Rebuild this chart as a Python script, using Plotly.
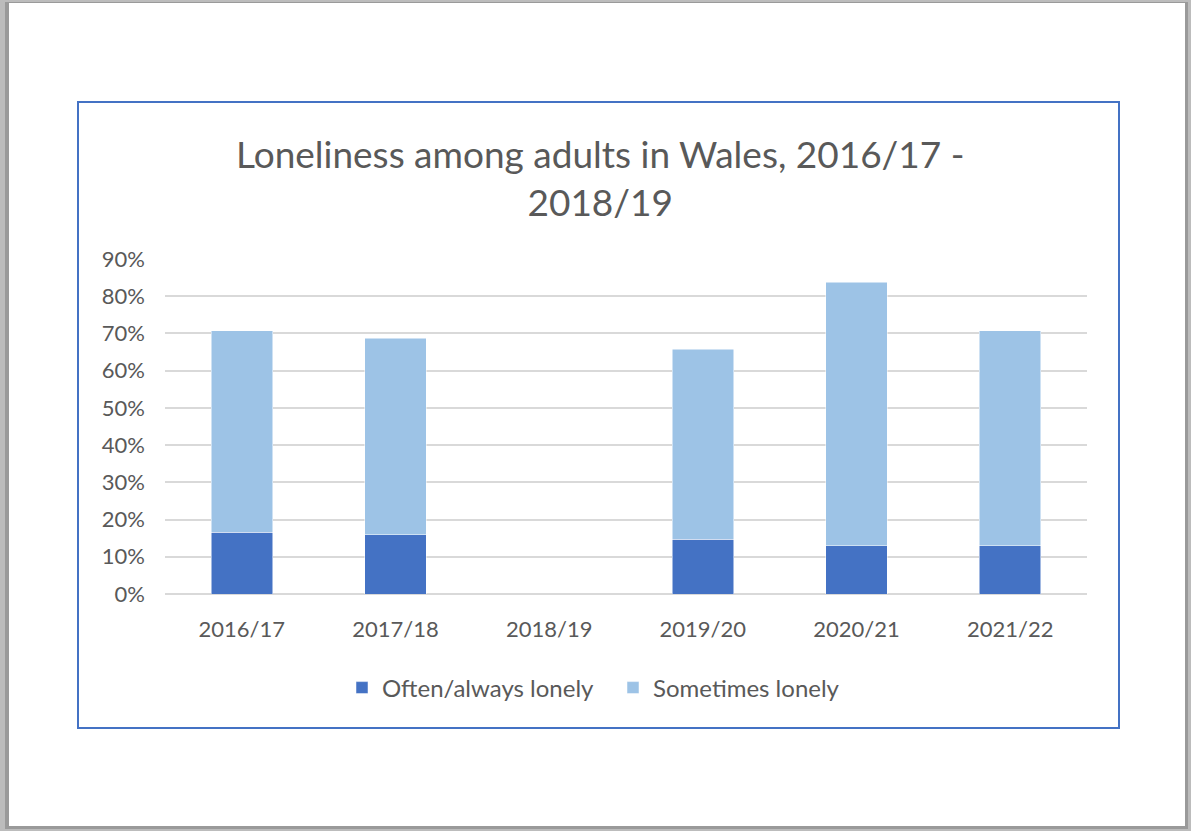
import plotly.graph_objects as go

categories = ["2016/17", "2017/18", "2018/19", "2019/20", "2020/21", "2021/22"]
often_lonely = [16.6, 15.9, None, 14.7, 12.9, 12.9]
sometimes_lonely = [54.1, 52.8, None, 51.1, 70.8, 57.8]
y_ticks = [0, 10, 20, 30, 40, 50, 60, 70, 80, 90]
y_tick_labels = [f"{v}%" for v in y_ticks]
title_text = "Loneliness among adults in Wales, 2016/17 -<br>2018/19"

W, H = 1191, 831
L, R, T, B = 165, 1087, 258, 594
pw, ph = R - L, B - T

def px(x):
    return (x - L) / pw

def py(y):
    return (B - y) / ph

FONT = "Lato"
GREY = "#595959"

fig = go.Figure()
fig.add_trace(go.Bar(x=categories, y=often_lonely, name="Often/always lonely",
                     marker=dict(color="#4472C4", line=dict(color="#ffffff", width=0.5))))
fig.add_trace(go.Bar(x=categories, y=sometimes_lonely, name="Sometimes lonely",
                     marker=dict(color="#9DC3E6", line=dict(color="#ffffff", width=0.5))))

shapes = [
    dict(type="rect", xref="paper", yref="paper", x0=px(0), x1=px(W), y0=py(H), y1=py(0),
         fillcolor="#bcbcbc", line=dict(width=0), layer="below"),
    dict(type="rect", xref="paper", yref="paper", x0=px(5), x1=px(1188), y0=py(829), y1=py(2),
         fillcolor="#9a9a9a", line=dict(width=0), layer="below"),
    dict(type="rect", xref="paper", yref="paper", x0=px(9), x1=px(1185), y0=py(826), y1=py(3),
         fillcolor="#ffffff", line=dict(width=0), layer="below"),
    dict(type="rect", xref="paper", yref="paper", x0=px(78), x1=px(1119), y0=py(728), y1=py(102),
         fillcolor="rgba(0,0,0,0)", line=dict(color="#4472C4", width=2), layer="below"),
]

fig.update_layout(
    width=W, height=H,
    margin=dict(l=L, r=W - R, t=T, b=H - B, autoexpand=False),
    paper_bgcolor="#ffffff", plot_bgcolor="rgba(0,0,0,0)",
    barmode="stack", bargap=0.6,
    font=dict(family=FONT, color=GREY, size=22),
    shapes=shapes,
    showlegend=True,
    legend=dict(orientation="h", xanchor="left", x=px(342), yanchor="middle", y=py(688),
                font=dict(size=24, color=GREY), itemwidth=30, traceorder="normal",
                entrywidth=226, entrywidthmode="pixels",
                bgcolor="rgba(0,0,0,0)"),
    annotations=[dict(text=title_text, xref="paper", yref="paper", x=px(600), y=py(177),
                      xanchor="center", yanchor="middle", showarrow=False,
                      font=dict(size=37, color=GREY, family=FONT))],
)
fig.update_yaxes(range=[0, 90.25], tickvals=y_ticks, ticktext=y_tick_labels,
                 showgrid=True, gridcolor="#d9d9d9", gridwidth=1.5,
                 zeroline=True, zerolinecolor="#d9d9d9", zerolinewidth=1.5,
                 showline=False, ticks="", ticklabelstandoff=19,
                 tickfont=dict(size=22, color=GREY), fixedrange=True)
fig.update_xaxes(showgrid=False, showline=False, ticks="", ticklabelstandoff=20,
                 tickfont=dict(size=22, color=GREY), categoryorder="array",
                 categoryarray=categories)

fig.write_html("out.html")
